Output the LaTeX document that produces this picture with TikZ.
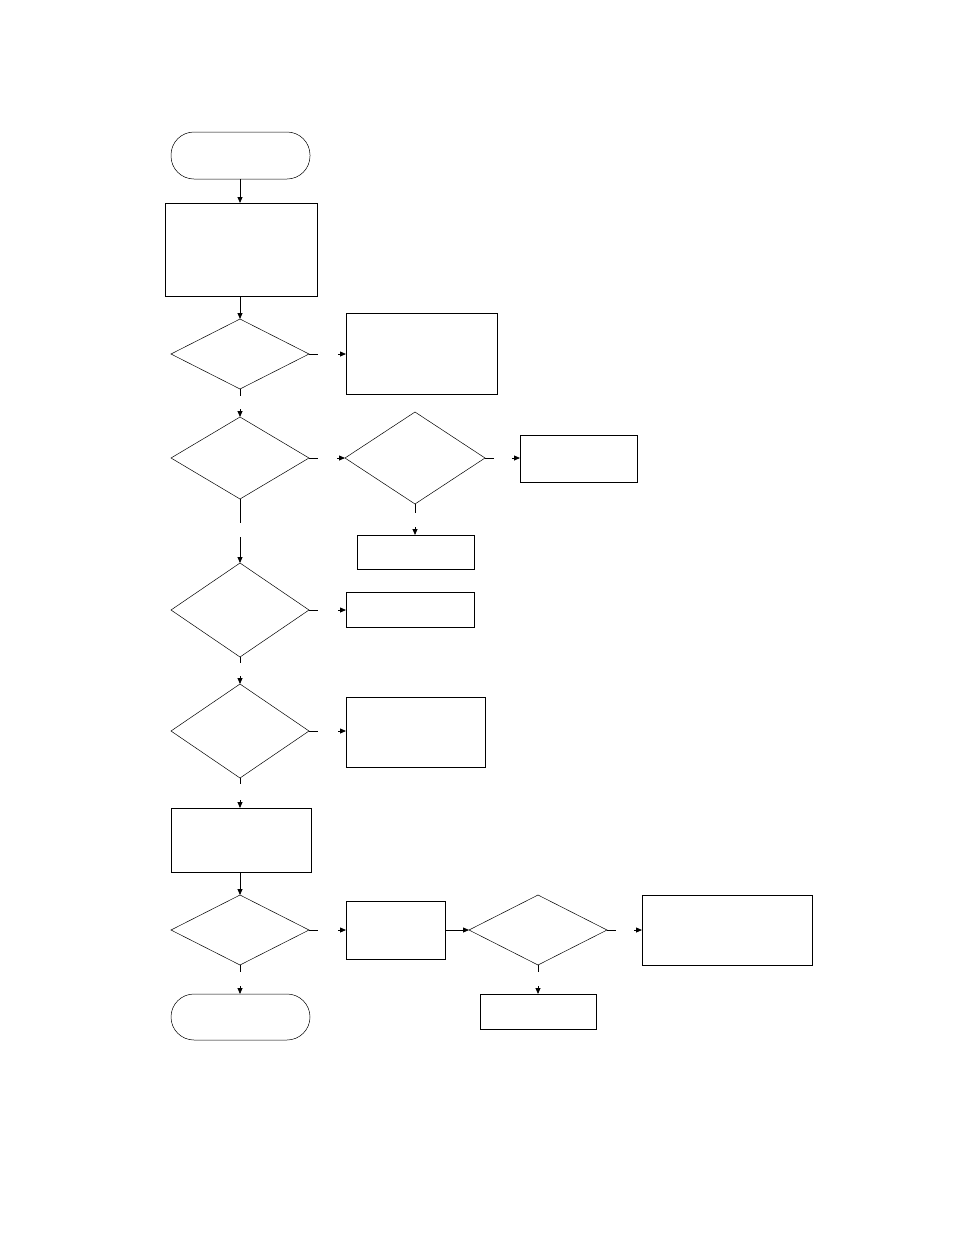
\documentclass[tikz,border=0pt]{standalone}
\usetikzlibrary{shapes.geometric,arrows.meta,calc}
\begin{document}
\begin{tikzpicture}[x=1pt,y=-1pt,
  bx/.style={draw,line width=0.8pt},
  dm/.style={draw,line width=0.5pt},
  tm/.style={draw,line width=0.5pt,rounded corners=23pt},
  ar/.style={-{Triangle[length=6pt,width=5pt]},line width=0.8pt},
  ln/.style={line width=0.8pt}]
\useasboundingbox (0,0) rectangle (954,1235);
\def\rect#1#2#3#4#5#6{\path[#6] (#2,#3) rectangle (#4,#5); \node[inner sep=0,minimum width={#4-#2},minimum height={#5-#3}] (#1) at ({(#2+#4)/2},{(#3+#5)/2}) {};}
\def\dia#1#2#3#4#5{\draw[dm] (#2,#3) -- (#4,{(#3+#5)/2}) -- ({2*#4-#2},#5) ... ; }
% terminals
\draw[tm] (171,132) rectangle (310,179); \coordinate (st) at (240,179);
\draw[tm] (171,994) rectangle (310,1040); \coordinate (en) at (240,994);
% boxes
\draw[bx] (165,203) rectangle (317,296); \coordinate (b1n) at (240,203); \coordinate (b1s) at (240,296);
\draw[bx] (346,313) rectangle (497,394); \coordinate (r1) at (346,354);
\draw[bx] (520,435) rectangle (637,482); \coordinate (r2) at (520,458);
\draw[bx] (357,535) rectangle (474,569); \coordinate (r2b) at (415,535);
\draw[bx] (346,592) rectangle (474,627); \coordinate (r3) at (346,610);
\draw[bx] (346,697) rectangle (485,767); \coordinate (r4) at (346,731);
\draw[bx] (171,808) rectangle (311,872); \coordinate (b2n) at (240,808); \coordinate (b2s) at (240,872);
\draw[bx] (346,901) rectangle (445,959); \coordinate (r5w) at (346,930); \coordinate (r5e) at (445,930);
\draw[bx] (642,895) rectangle (812,965); \coordinate (r6) at (642,930);
\draw[bx] (480,994) rectangle (596,1029); \coordinate (r6b) at (538,994);
% diamonds: name, cx, cy, halfw, halfh
\def\dm#1#2#3#4#5{\draw[dm] ({#2-#4},#3) -- (#2,{#3-#5}) -- ({#2+#4},#3) -- (#2,{#3+#5}) -- cycle;
 \coordinate (#1n) at (#2,{#3-#5}); \coordinate (#1s) at (#2,{#3+#5});
 \coordinate (#1e) at ({#2+#4},#3); \coordinate (#1w) at ({#2-#4},#3);}
\dm{d1}{240}{354}{69}{35}
\dm{d2}{240}{458}{69}{41}
\dm{d2b}{415}{458}{70}{46}
\dm{d3}{240}{610}{69}{47}
\dm{d4}{240}{731}{69}{47}
\dm{d5}{240}{930}{69}{35}
\dm{d5b}{538}{930}{69}{35}
% continuous
\draw[ar] (st) -- (b1n);
\draw[ar] (b1s) -- (d1n);
\draw[ar] (b2s) -- (d5n);
\draw[ar] (r5e) -- (d5bw);
% broken right connectors
\draw[ln] (d1e) -- ++(9,0); \draw[ar] ($(r1)+(-8,0)$) -- (r1);
\draw[ln] (d2e) -- ++(9,0); \draw[ar] ($(d2bw)+(-8,0)$) -- (d2bw);
\draw[ln] (d2be) -- ++(9,0); \draw[ar] ($(r2)+(-8,0)$) -- (r2);
\draw[ln] (d3e) -- ++(9,0); \draw[ar] ($(r3)+(-8,0)$) -- (r3);
\draw[ln] (d4e) -- ++(9,0); \draw[ar] ($(r4)+(-8,0)$) -- (r4);
\draw[ln] (d5e) -- ++(9,0); \draw[ar] ($(r5w)+(-8,0)$) -- (r5w);
\draw[ln] (d5be) -- ++(9,0); \draw[ar] ($(r6)+(-8,0)$) -- (r6);
% broken down connectors
\draw[ln] (d1s) -- ++(0,7); \draw[ar] ($(d2n)+(0,-8)$) -- (d2n);
\draw[ln] (d2s) -- ++(0,24); \draw[ar] ($(d3n)+(0,-26)$) -- (d3n);
\draw[ln] (d2bs) -- ++(0,9); \draw[ar] ($(r2b)+(0,-8)$) -- (r2b);
\draw[ln] (d3s) -- ++(0,6); \draw[ar] ($(d4n)+(0,-8)$) -- (d4n);
\draw[ln] (d4s) -- ++(0,6); \draw[ar] ($(b2n)+(0,-8)$) -- (b2n);
\draw[ln] (d5s) -- ++(0,7); \draw[ar] ($(en)+(0,-8)$) -- (en);
\draw[ln] (d5bs) -- ++(0,7); \draw[ar] ($(r6b)+(0,-8)$) -- (r6b);
\end{tikzpicture}
\end{document}
